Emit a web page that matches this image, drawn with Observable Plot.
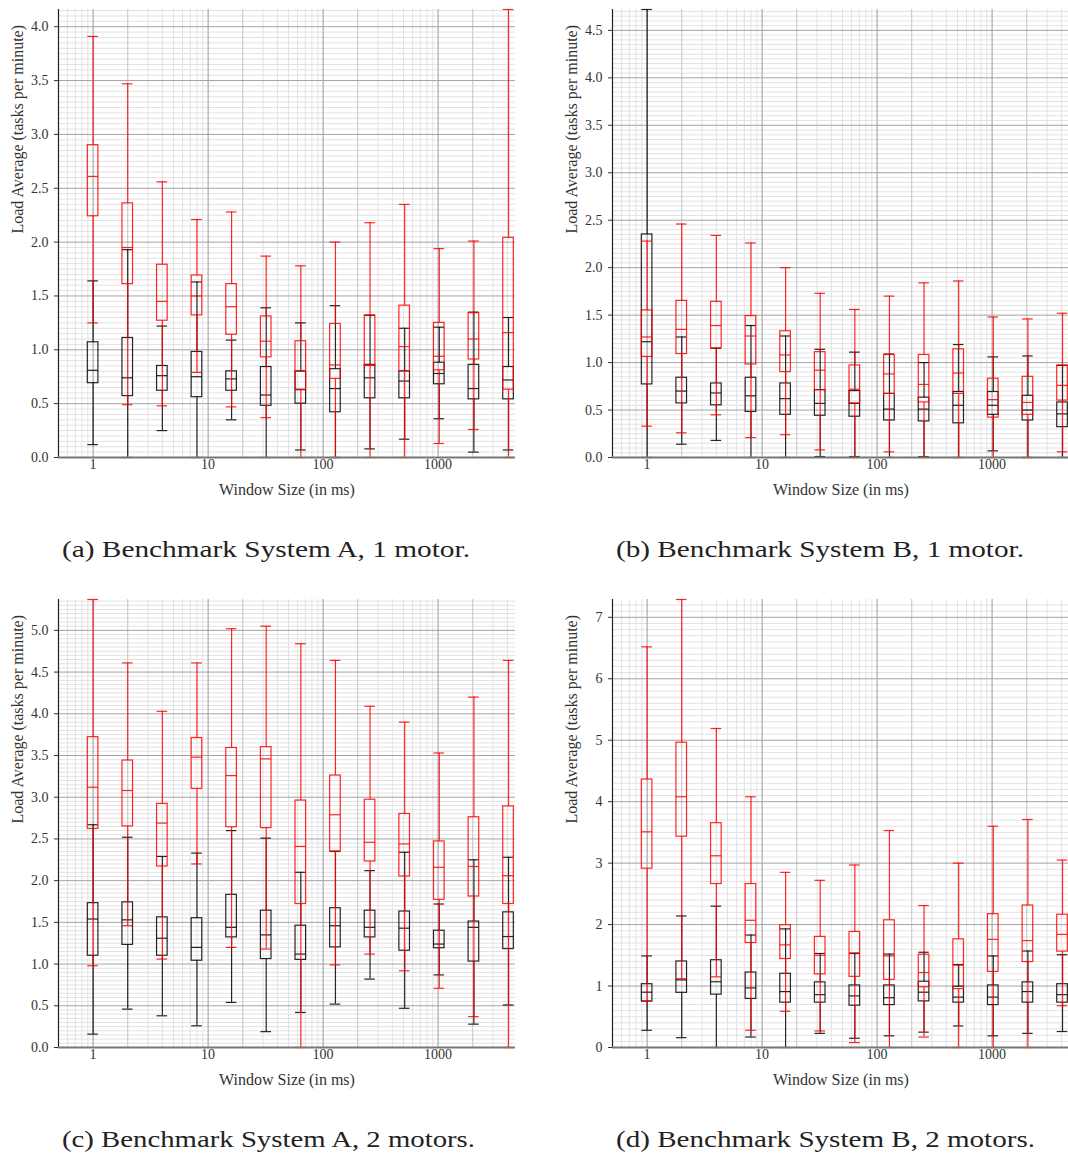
<!DOCTYPE html>
<html>
<head>
<meta charset="utf-8">
<script src="https://cdn.jsdelivr.net/npm/d3@7"></script>
<script src="https://cdn.jsdelivr.net/npm/@observablehq/plot@0.6"></script>
<style>
  html, body { margin: 0; padding: 0; background: #fff; }
  #page { position: relative; width: 1068px; height: 1158px; overflow: hidden; background: #fff; }
  .panel { position: absolute; width: 534px; height: 502px; }
  .panel svg { max-width: none !important; }
  .caption { position: absolute; font-family: "Liberation Serif", "DejaVu Serif", serif; font-size: 24px; color: #222; white-space: nowrap; transform-origin: left center; }
</style>
</head>
<body>
<div id="page"></div>
<script>
const windows = [1, 2, 4, 8, 16, 32, 64, 128, 256, 512, 1024, 2048, 4096];
const xTickLabels = [1, 10, 100, 1000];

// each row: [lower whisker, q1, median, q3, upper whisker]
const aBlack = [
  [0.12, 0.69, 0.81, 1.07, 1.64],
  [0.00, 0.57, 0.74, 1.11, 1.93],
  [0.25, 0.62, 0.76, 0.85, 1.22],
  [0.00, 0.56, 0.75, 0.98, 1.63],
  [0.35, 0.62, 0.73, 0.80, 1.09],
  [0.00, 0.48, 0.58, 0.84, 1.39],
  [0.07, 0.50, 0.63, 0.80, 1.25],
  [0.00, 0.42, 0.64, 0.82, 1.41],
  [0.08, 0.55, 0.74, 0.86, 1.32],
  [0.17, 0.55, 0.71, 0.80, 1.20],
  [0.36, 0.68, 0.78, 0.88, 1.21],
  [0.05, 0.54, 0.64, 0.86, 1.35],
  [0.07, 0.54, 0.72, 0.84, 1.30]
];
const aRed = [
  [1.25, 2.24, 2.61, 2.90, 3.91],
  [0.49, 1.61, 1.95, 2.36, 3.47],
  [0.48, 1.27, 1.45, 1.79, 2.56],
  [0.79, 1.32, 1.50, 1.69, 2.21],
  [0.47, 1.14, 1.40, 1.61, 2.28],
  [0.37, 0.93, 1.08, 1.31, 1.87],
  [0.00, 0.63, 0.80, 1.08, 1.78],
  [0.00, 0.73, 0.86, 1.24, 2.00],
  [0.00, 0.85, 0.86, 1.32, 2.18],
  [0.00, 0.80, 1.03, 1.41, 2.35],
  [0.13, 0.81, 0.94, 1.25, 1.94],
  [0.26, 0.91, 1.10, 1.34, 2.01],
  [0.00, 0.63, 1.16, 2.04, 4.16]
];

const bBlack = [
  [0.00, 0.77, 1.22, 2.35, 4.72],
  [0.14, 0.57, 0.70, 0.84, 1.27],
  [0.18, 0.55, 0.68, 0.78, 1.15],
  [0.00, 0.48, 0.65, 0.84, 1.39],
  [0.00, 0.45, 0.62, 0.78, 1.28],
  [0.01, 0.44, 0.57, 0.71, 1.14],
  [0.01, 0.43, 0.57, 0.70, 1.11],
  [0.00, 0.39, 0.51, 0.67, 1.09],
  [0.01, 0.38, 0.51, 0.63, 1.00],
  [0.00, 0.36, 0.55, 0.69, 1.19],
  [0.07, 0.45, 0.55, 0.69, 1.06],
  [0.00, 0.39, 0.50, 0.65, 1.07],
  [0.00, 0.32, 0.46, 0.58, 0.97]
];
const bRed = [
  [0.33, 1.06, 1.27, 1.55, 2.28],
  [0.26, 1.09, 1.35, 1.65, 2.46],
  [0.45, 1.15, 1.39, 1.64, 2.34],
  [0.21, 0.98, 1.28, 1.49, 2.26],
  [0.24, 0.90, 1.08, 1.33, 2.00],
  [0.08, 0.71, 0.92, 1.11, 1.73],
  [0.00, 0.57, 0.72, 0.97, 1.56],
  [0.06, 0.67, 0.88, 1.08, 1.70],
  [0.00, 0.58, 0.77, 1.08, 1.84],
  [0.00, 0.67, 0.89, 1.14, 1.86],
  [0.00, 0.42, 0.61, 0.83, 1.48],
  [0.00, 0.45, 0.58, 0.85, 1.46],
  [0.06, 0.60, 0.76, 0.97, 1.52]
];

const cBlack = [
  [0.16, 1.10, 1.54, 1.73, 2.67],
  [0.46, 1.23, 1.53, 1.74, 2.52],
  [0.38, 1.10, 1.31, 1.56, 2.29],
  [0.26, 1.04, 1.20, 1.55, 2.33],
  [0.54, 1.32, 1.44, 1.83, 2.60],
  [0.19, 1.06, 1.35, 1.64, 2.51],
  [0.42, 1.05, 1.12, 1.46, 2.10],
  [0.52, 1.20, 1.46, 1.67, 2.35],
  [0.82, 1.32, 1.44, 1.64, 2.12],
  [0.47, 1.16, 1.43, 1.63, 2.34],
  [0.87, 1.19, 1.24, 1.40, 1.72],
  [0.28, 1.03, 1.44, 1.51, 2.25],
  [0.51, 1.18, 1.33, 1.62, 2.28]
];
const cRed = [
  [0.98, 2.62, 3.12, 3.72, 5.37],
  [1.46, 2.65, 3.08, 3.44, 4.61],
  [1.06, 2.17, 2.69, 2.92, 4.03],
  [2.20, 3.10, 3.48, 3.71, 4.61],
  [1.20, 2.64, 3.26, 3.59, 5.02],
  [1.18, 2.63, 3.46, 3.60, 5.05],
  [0.00, 1.72, 2.41, 2.96, 4.84],
  [0.99, 2.35, 2.79, 3.26, 4.64],
  [1.12, 2.23, 2.46, 2.97, 4.09],
  [0.92, 2.05, 2.44, 2.80, 3.90],
  [0.71, 1.77, 2.16, 2.47, 3.53],
  [0.37, 1.81, 2.17, 2.76, 4.20],
  [0.00, 1.72, 2.06, 2.89, 4.64]
];

const dBlack = [
  [0.28, 0.75, 0.90, 1.03, 1.49],
  [0.16, 0.89, 1.10, 1.40, 2.14],
  [0.00, 0.86, 1.07, 1.42, 2.30],
  [0.17, 0.79, 0.97, 1.22, 1.83],
  [0.00, 0.73, 0.91, 1.20, 1.93],
  [0.23, 0.73, 0.86, 1.06, 1.53],
  [0.15, 0.68, 0.84, 1.01, 1.53],
  [0.19, 0.69, 0.81, 1.01, 1.52],
  [0.25, 0.75, 0.90, 1.07, 1.55],
  [0.35, 0.73, 0.82, 0.99, 1.35],
  [0.19, 0.69, 0.82, 1.01, 1.49],
  [0.23, 0.73, 0.91, 1.06, 1.57],
  [0.26, 0.73, 0.86, 1.03, 1.51]
];
const dRed = [
  [0.75, 2.91, 3.51, 4.36, 6.52],
  [1.12, 3.43, 4.08, 4.96, 7.29],
  [1.15, 2.66, 3.12, 3.65, 5.19],
  [0.28, 1.70, 2.07, 2.66, 4.08],
  [0.59, 1.44, 1.67, 1.99, 2.85],
  [0.27, 1.19, 1.50, 1.80, 2.72],
  [0.08, 1.15, 1.54, 1.88, 2.97],
  [0.00, 1.10, 1.49, 2.07, 3.53],
  [0.17, 0.98, 1.22, 1.51, 2.31],
  [0.00, 0.95, 1.34, 1.76, 3.00],
  [0.00, 1.23, 1.76, 2.17, 3.60],
  [0.00, 1.39, 1.74, 2.31, 3.71],
  [0.68, 1.56, 1.84, 2.16, 3.05]
];

const captions = [
  "(a) Benchmark System A, 1 motor.",
  "(b) Benchmark System B, 1 motor.",
  "(c) Benchmark System A, 2 motors.",
  "(d) Benchmark System B, 2 motors."
];
const xLabel = "Window Size (in ms)";
const yLabel = "Load Average (tasks per minute)";

const FONT = "'Liberation Serif', 'DejaVu Serif', serif";
const K = 1.112; // half box width factor on the log axis

function rowsOf(arr) {
  return windows.map((w, i) => ({w, lo: arr[i][0], q1: arr[i][1], med: arr[i][2], q3: arr[i][3], hi: arr[i][4]}));
}

function boxMarks(rows, color, opacity) {
  const common = {stroke: color, strokeOpacity: opacity, strokeWidth: 1.2};
  const xs = {x1: d => d.w / K, x2: d => d.w * K};
  return [
    Plot.ruleX(rows, {x: "w", y1: "lo", y2: "q1", ...common}),
    Plot.ruleX(rows, {x: "w", y1: "q3", y2: "hi", ...common}),
    Plot.ruleY(rows, {y: "lo", ...xs, ...common}),
    Plot.ruleY(rows, {y: "hi", ...xs, ...common}),
    Plot.rect(rows, {...xs, y1: "q1", y2: "q3", fill: "none", ...common}),
    Plot.ruleY(rows, {y: "med", ...xs, ...common})
  ];
}

function panel(black, red, yTicks, yMinorStep, fmt) {
  const bRows = rowsOf(black), rRows = rowsOf(red);
  const yMax = d3.max([...black, ...red], r => r[4]);
  const xDomain = [0.5, 4710];
  const xMinor = [], xMid = [];
  for (let k = -1; k <= 3; k++) {
    for (let m = 2; m <= 9; m++) {
      const v = m * Math.pow(10, k);
      if (v < xDomain[0] || v > xDomain[1]) continue;
      (m === 2 ? xMid : xMinor).push(v);
    }
  }
  const yMinor = d3.range(0, yMax + 1e-9, yMinorStep).filter(v => Math.abs(v / yTicks[1] - Math.round(v / yTicks[1])) > 1e-6);
  return Plot.plot({
    width: 534,
    height: 502,
    marginLeft: 58,
    marginRight: 19,
    marginTop: 9,
    marginBottom: 45,
    style: {fontFamily: FONT, fontSize: "14px", background: "transparent", color: "#333", maxWidth: "none"},
    x: {type: "log", domain: xDomain},
    y: {domain: [0, yMax]},
    marks: [
      Plot.ruleX(xMinor, {stroke: "#e2e2e2", strokeWidth: 1}),
      Plot.ruleY(yMinor, {stroke: "#e2e2e2", strokeWidth: 1}),
      Plot.ruleX(xMid, {stroke: "#c4c4c4", strokeWidth: 1}),
      Plot.ruleX(xTickLabels, {stroke: "#999", strokeWidth: 1}),
      Plot.ruleY(yTicks, {stroke: "#a3a3a3", strokeWidth: 1}),
      Plot.axisY({ticks: yTicks, tickFormat: fmt, tickSize: 4, tickPadding: 6, label: null, fontSize: 14}),
      Plot.axisX({ticks: xTickLabels, tickFormat: d => String(d), tickSize: 0, tickPadding: 2, label: null, fontSize: 14}),
      Plot.text([yLabel], {frameAnchor: "left", rotate: -90, dx: -41, fontSize: 16, fill: "#333"}),
      Plot.text([xLabel], {frameAnchor: "bottom", dy: 37, fontSize: 16, fill: "#333"}),
      ...boxMarks(bRows, "#000", 0.85),
      ...boxMarks(rRows, "#ff0000", 0.85),
      Plot.ruleX([xDomain[0]], {stroke: "#222", strokeWidth: 1.2}),
      Plot.ruleY([0], {stroke: "#777", strokeWidth: 1.8})
    ]
  });
}

const page = document.getElementById("page");
const f1 = d3.format(".1f");
const f0 = d3.format("d");
const specs = [
  {data: [aBlack, aRed], ticks: d3.range(0, 4.01, 0.5), step: 0.05, fmt: f1, left: 0, top: 0},
  {data: [bBlack, bRed], ticks: d3.range(0, 4.51, 0.5), step: 0.05, fmt: f1, left: 554, top: 0},
  {data: [cBlack, cRed], ticks: d3.range(0, 5.01, 0.5), step: 0.05, fmt: f1, left: 0, top: 590},
  {data: [dBlack, dRed], ticks: d3.range(0, 7.01, 1), step: 0.1, fmt: f0, left: 554, top: 590}
];
specs.forEach((s, i) => {
  const div = document.createElement("div");
  div.className = "panel";
  div.style.left = s.left + "px";
  div.style.top = s.top + "px";
  div.appendChild(panel(s.data[0], s.data[1], s.ticks, s.step, s.fmt));
  page.appendChild(div);
  const cap = document.createElement("div");
  cap.className = "caption";
  cap.textContent = captions[i];
  cap.style.left = (s.left + 62) + "px";
  cap.style.top = (s.top + 536) + "px";
  page.appendChild(cap);
  // stretch caption to the reference's width (serif face is narrower than the original)
  const w = cap.getBoundingClientRect().width;
  const target = i % 2 === 0 ? (i === 0 ? 408 : 413) : (i === 1 ? 408 : 419);
  cap.style.transform = `scaleX(${target / w})`;
});
</script>
</body>
</html>
